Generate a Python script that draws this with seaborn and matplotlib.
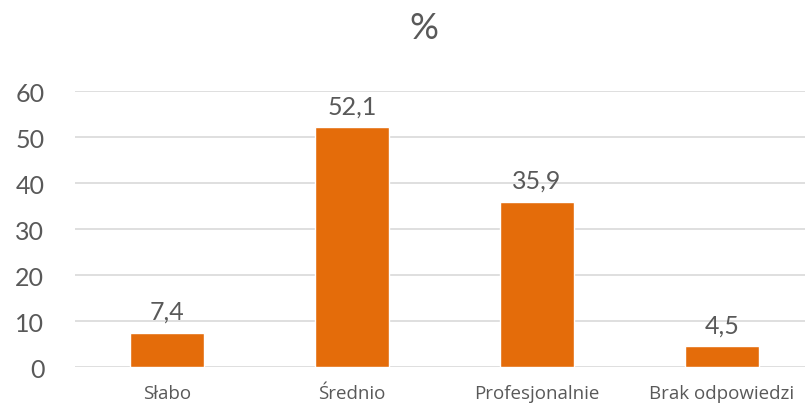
import matplotlib
matplotlib.use("Agg")
import matplotlib.pyplot as plt
import seaborn as sns
import pandas as pd

categories = ["Słabo", "Średnio", "Profesjonalnie", "Brak odpowiedzi"]
values = [7.4, 52.1, 35.9, 4.5]
yticks = [0, 10, 20, 30, 40, 50, 60]

sns.set_style("white")
plt.rcParams["font.family"] = ["Lato", "DejaVu Sans"]

text_color = "#595959"
bar_color = "#E46C0A"

df = pd.DataFrame({"kategoria": categories, "procent": values})

fig = plt.figure(figsize=(8.05, 4.10), dpi=100)
ax = fig.add_axes([0.093, 0.1024, 0.907, 0.6732])
sns.barplot(data=df, x="kategoria", y="procent", color=bar_color,
            saturation=1, width=0.4, ax=ax, zorder=3)

for p, v in zip(ax.patches, values):
    ax.text(p.get_x() + p.get_width() / 2, v + 2.2, f"{v:.1f}".replace(".", ","),
            ha="center", va="bottom", fontsize=18, color=text_color)

ax.set_ylim(0, 60)
ax.set_xlim(-0.497, 3.449)
ax.set_yticks(yticks)
ax.yaxis.grid(True, color="#D9D9D9", linewidth=1.2, zorder=0)
ax.set_axisbelow(True)
for s in ax.spines.values():
    s.set_visible(False)
ax.tick_params(axis="y", labelsize=18, labelcolor=text_color, length=0, pad=22)
ax.tick_params(axis="x", length=0, pad=12)
for lbl in ax.get_xticklabels():
    lbl.set_fontfamily(["Open Sans", "DejaVu Sans"])
    lbl.set_fontsize(13.5)
    lbl.set_color(text_color)
ax.set_xlabel("")
ax.set_ylabel("")
fig.text(0.527, 0.93, "%", ha="center", va="center", fontsize=26, color=text_color)

fig.savefig("out.png", dpi=100)
